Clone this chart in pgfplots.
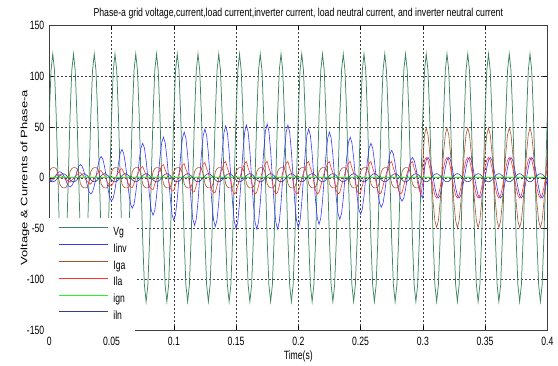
\documentclass[border=0pt]{standalone}
\usepackage{pgfplots}
\usepackage{pgfplotstable}
\usepackage{graphicx}
\usepackage{fontspec}
\pgfplotsset{compat=1.18}
\setmainfont{Liberation Sans}
\newfontfamily\nf[FakeStretch=0.72]{Liberation Sans}
\newfontfamily\tf[FakeStretch=0.76]{Liberation Sans}
\definecolor{cvg}{rgb}{0.25,0.52,0.39}
\definecolor{cinv}{rgb}{0.22,0.22,1}
\definecolor{cga}{rgb}{0.65,0.33,0.18}
\definecolor{cla}{rgb}{1,0.2,0.2}
\definecolor{cgn}{rgb}{0.15,0.95,0.15}
\definecolor{cln}{rgb}{0.2,0.25,0.55}
% x is the sample index: t = x/720 s
\pgfplotstableread{
x Vg Iinv Iga Ila iln
0 61 -4 6 -2.7 -2
1 105.7 -3.5 9 -1.5 -3.5
2 122 -2 10 -0.3 -4
3 105.7 0 10 0.9 -3.5
4 61 3 9 1.8 -2
5 0 5.2 4 2.7 0
6 -61 6 -6 3 2
7 -105.7 5.2 -9 1.8 3.5
8 -122 3 -10 0.9 4
9 -105.7 0 -10 -0.9 3.5
10 -61 -4.5 -9 -2.4 2
11 0 -7.8 -4 -3 0
12 61 -9 6 -4.5 -2
13 105.7 -7.8 9 -2.5 -3.5
14 122 -4.5 10 -0.5 -4
15 105.7 0 10 1.5 -3.5
16 61 6.5 9 3 -2
17 0 11.3 4 4.5 0
18 -61 13 -6 5 2
19 -105.7 11.3 -9 3 3.5
20 -122 6.5 -10 1.5 4
21 -105.7 0 -10 -1.5 3.5
22 -61 -8 -9 -4 2
23 0 -13.9 -4 -5 0
24 61 -16 6 -6.3 -2
25 105.7 -13.9 9 -3.5 -3.5
26 122 -8 10 -0.7 -4
27 105.7 0 10 2.1 -3.5
28 61 10.5 9 4.2 -2
29 0 18.2 4 6.3 0
30 -61 21 -6 7 2
31 -105.7 18.2 -9 4.2 3.5
32 -122 10.5 -10 2.1 4
33 -105.7 0 -10 -2.1 3.5
34 -61 -11.5 -9 -5.6 2
35 0 -19.9 -4 -7 0
36 61 -23 6 -8.1 -2
37 105.7 -19.9 9 -4.5 -3.5
38 122 -11.5 10 -0.9 -4
39 105.7 0 10 2.7 -3.5
40 61 14 9 5.4 -2
41 0 24.2 4 8.1 0
42 -61 28 -6 9 2
43 -105.7 24.2 -9 5.4 3.5
44 -122 14 -10 2.7 4
45 -105.7 0 -10 -2.7 3.5
46 -61 -15 -9 -7.2 2
47 0 -26 -4 -9 0
48 61 -30 6 -9.9 -2
49 105.7 -26 9 -5.5 -3.5
50 122 -15 10 -1.1 -4
51 105.7 0 10 3.3 -3.5
52 61 17 9 6.6 -2
53 0 29.4 4 9.9 0
54 -61 34 -6 11 2
55 -105.7 29.4 -9 6.6 3.5
56 -122 17 -10 3.3 4
57 -105.7 0 -10 -3.3 3.5
58 -61 -18.5 -9 -8.8 2
59 0 -32 -4 -11 0
60 61 -37 6 -11.7 -2
61 105.7 -32 9 -6.5 -3.5
62 122 -18.5 10 -1.3 -4
63 105.7 0 10 3.9 -3.5
64 61 20 9 7.8 -2
65 0 34.6 4 11.7 0
66 -61 40 -6 13 2
67 -105.7 34.6 -9 7.8 3.5
68 -122 20 -10 3.9 4
69 -105.7 0 -10 -3.9 3.5
70 -61 -21 -9 -10.4 2
71 0 -36.4 -4 -13 0
72 61 -42 6 -12.6 -2
73 105.7 -36.4 9 -7 -3.5
74 122 -21 10 -1.4 -4
75 105.7 0 10 4.2 -3.5
76 61 22.5 9 8.4 -2
77 0 39 4 12.6 0
78 -61 45 -6 14 2
79 -105.7 39 -9 8.4 3.5
80 -122 22.5 -10 4.2 4
81 -105.7 0 -10 -4.2 3.5
82 -61 -23.5 -9 -11.2 2
83 0 -40.7 -4 -14 0
84 61 -47 6 -13.5 -2
85 105.7 -40.7 9 -7.5 -3.5
86 122 -23.5 10 -1.5 -4
87 105.7 0 10 4.5 -3.5
88 61 24 9 9 -2
89 0 41.6 4 13.5 0
90 -61 48 -6 15 2
91 -105.7 41.6 -9 9 3.5
92 -122 24 -10 4.5 4
93 -105.7 0 -10 -4.5 3.5
94 -61 -24 -9 -12 2
95 0 -41.6 -4 -15 0
96 61 -48 6 -14.4 -2
97 105.7 -41.6 9 -8 -3.5
98 122 -24 10 -1.6 -4
99 105.7 0 10 4.8 -3.5
100 61 25.5 9 9.6 -2
101 0 44.2 4 14.4 0
102 -61 51 -6 16 2
103 -105.7 44.2 -9 9.6 3.5
104 -122 25.5 -10 4.8 4
105 -105.7 0 -10 -4.8 3.5
106 -61 -25 -9 -12.8 2
107 0 -43.3 -4 -16 0
108 61 -50 6 -14.4 -2
109 105.7 -43.3 9 -8 -3.5
110 122 -25 10 -1.6 -4
111 105.7 0 10 4.8 -3.5
112 61 26 9 9.6 -2
113 0 45 4 14.4 0
114 -61 52 -6 16 2
115 -105.7 45 -9 9.6 3.5
116 -122 26 -10 4.8 4
117 -105.7 0 -10 -4.8 3.5
118 -61 -25.3 -9 -12.8 2
119 0 -43.7 -4 -16 0
120 61 -50.5 6 -14.4 -2
121 105.7 -43.7 9 -8 -3.5
122 122 -25.3 10 -1.6 -4
123 105.7 0 10 4.8 -3.5
124 61 26.5 9 9.6 -2
125 0 45.9 4 14.4 0
126 -61 53 -6 16 2
127 -105.7 45.9 -9 9.6 3.5
128 -122 26.5 -10 4.8 4
129 -105.7 0 -10 -4.8 3.5
130 -61 -25.3 -9 -12.8 2
131 0 -43.7 -4 -16 0
132 61 -50.5 6 -14.4 -2
133 105.7 -43.7 9 -8 -3.5
134 122 -25.3 10 -1.6 -4
135 105.7 0 10 4.8 -3.5
136 61 26 9 9.6 -2
137 0 45 4 14.4 0
138 -61 52 -6 16 2
139 -105.7 45 -9 9.6 3.5
140 -122 26 -10 4.8 4
141 -105.7 0 -10 -4.8 3.5
142 -61 -24.5 -9 -12.8 2
143 0 -42.4 -4 -16 0
144 61 -49 6 -14.4 -2
145 105.7 -42.4 9 -8 -3.5
146 122 -24.5 10 -1.6 -4
147 105.7 0 10 4.8 -3.5
148 61 24 9 9.6 -2
149 0 41.6 4 14.4 0
150 -61 48 -6 16 2
151 -105.7 41.6 -9 9.6 3.5
152 -122 24 -10 4.8 4
153 -105.7 0 -10 -4.8 3.5
154 -61 -23 -9 -12.8 2
155 0 -39.8 -4 -16 0
156 61 -46 6 -14.4 -2
157 105.7 -39.8 9 -8 -3.5
158 122 -23 10 -1.6 -4
159 105.7 0 10 4.8 -3.5
160 61 22.5 9 9.6 -2
161 0 39 4 14.4 0
162 -61 45 -6 16 2
163 -105.7 39 -9 9.6 3.5
164 -122 22.5 -10 4.8 4
165 -105.7 0 -10 -4.8 3.5
166 -61 -20.5 -9 -12.8 2
167 0 -35.5 -4 -16 0
168 61 -41 6 -14.4 -2
169 105.7 -35.5 9 -8 -3.5
170 122 -20.5 10 -1.6 -4
171 105.7 0 10 4.8 -3.5
172 61 20 9 9.6 -2
173 0 34.6 4 14.4 0
174 -61 40 -6 16 2
175 -105.7 34.6 -9 9.6 3.5
176 -122 20 -10 4.8 4
177 -105.7 0 -10 -4.8 3.5
178 -61 -18 -9 -12.8 2
179 0 -31.2 -4 -16 0
180 61 -36 6 -14.4 -2
181 105.7 -31.2 9 -8 -3.5
182 122 -18 10 -1.6 -4
183 105.7 0 10 4.8 -3.5
184 61 17 9 9.6 -2
185 0 29.4 4 14.4 0
186 -61 34 -6 16 2
187 -105.7 29.4 -9 9.6 3.5
188 -122 17 -10 4.8 4
189 -105.7 0 -10 -4.8 3.5
190 -61 -14.5 -9 -12.8 2
191 0 -25.1 -4 -16 0
192 61 -29 6 -14.4 -2
193 105.7 -25.1 9 -8 -3.5
194 122 -14.5 10 -1.6 -4
195 105.7 0 10 4.8 -3.5
196 61 13.5 9 9.6 -2
197 0 23.4 4 14.4 0
198 -61 27 -6 16 2
199 -105.7 23.4 -9 9.6 3.5
200 -122 13.5 -10 4.8 4
201 -105.7 0 -10 -4.8 3.5
202 -61 -11.5 -9 -12.8 2
203 0 -19.9 -4 -16 0
204 61 -23 6 -14.4 -2
205 105.7 -19.9 9 -8 -3.5
206 122 -11.5 10 -1.6 -4
207 105.7 0 10 4.8 -3.5
208 61 10 9 9.6 -2
209 0 17.3 4 14.4 0
210 -61 20 -6 16 2
211 -105.7 17.3 -9 9.6 3.5
212 -122 10 -10 4.8 4
213 -105.7 0 -10 -4.8 3.5
214 -61 -10 -9 -12.8 2
215 0 -17.3 -4 -16 0
216 61 -20 15 -5 -2
217 105.7 10 42.4 17.3 -3.5
218 122 17.3 49 20 -4
219 105.7 20 42.4 17.3 -3.5
220 61 17.3 24.5 10 -2
221 0 10 0 0 0
222 -61 0 -24.5 -10 2
223 -105.7 -10 -42.4 -17.3 3.5
224 -122 -17.3 -49 -20 4
225 -105.7 -20 -42.4 -17.3 3.5
226 -61 -17.3 -24.5 -10 2
227 0 -10 0 0 0
228 61 0 24.5 10 -2
229 105.7 10 42.4 17.3 -3.5
230 122 17.3 49 20 -4
231 105.7 20 42.4 17.3 -3.5
232 61 17.3 24.5 10 -2
233 0 10 0 0 0
234 -61 0 -24.5 -10 2
235 -105.7 -10 -42.4 -17.3 3.5
236 -122 -17.3 -49 -20 4
237 -105.7 -20 -42.4 -17.3 3.5
238 -61 -17.3 -24.5 -10 2
239 0 -10 0 0 0
240 61 0 24.5 10 -2
241 105.7 10 42.4 17.3 -3.5
242 122 17.3 49 20 -4
243 105.7 20 42.4 17.3 -3.5
244 61 17.3 24.5 10 -2
245 0 10 0 0 0
246 -61 0 -24.5 -10 2
247 -105.7 -10 -42.4 -17.3 3.5
248 -122 -17.3 -49 -20 4
249 -105.7 -20 -42.4 -17.3 3.5
250 -61 -17.3 -24.5 -10 2
251 0 -10 0 0 0
252 61 0 24.5 10 -2
253 105.7 10 42.4 17.3 -3.5
254 122 17.3 49 20 -4
255 105.7 20 42.4 17.3 -3.5
256 61 17.3 24.5 10 -2
257 0 10 0 0 0
258 -61 0 -24.5 -10 2
259 -105.7 -10 -42.4 -17.3 3.5
260 -122 -17.3 -49 -20 4
261 -105.7 -20 -42.4 -17.3 3.5
262 -61 -17.3 -24.5 -10 2
263 0 -10 0 0 0
264 61 0 24.5 10 -2
265 105.7 10 42.4 17.3 -3.5
266 122 17.3 49 20 -4
267 105.7 20 42.4 17.3 -3.5
268 61 17.3 24.5 10 -2
269 0 10 0 0 0
270 -61 0 -24.5 -10 2
271 -105.7 -10 -42.4 -17.3 3.5
272 -122 -17.3 -49 -20 4
273 -105.7 -20 -42.4 -17.3 3.5
274 -61 -17.3 -24.5 -10 2
275 0 -10 0 0 0
276 61 0 24.5 10 -2
277 105.7 10 42.4 17.3 -3.5
278 122 17.3 49 20 -4
279 105.7 20 42.4 17.3 -3.5
280 61 17.3 24.5 10 -2
281 0 10 0 0 0
282 -61 0 -24.5 -10 2
283 -105.7 -10 -42.4 -17.3 3.5
284 -122 -17.3 -49 -20 4
285 -105.7 -20 -42.4 -17.3 3.5
286 -61 -17.3 -24.5 -10 2
287 0 -10 0 0 0
288 61 0 24.5 10 -2
}\data

\begin{document}
\begin{tikzpicture}
\useasboundingbox (-49.3pt,-35pt) rectangle (508.7pt,330pt);
\begin{axis}[
  scale only axis, width=498pt, height=304.5pt,
  xmin=0, xmax=288, ymin=-150, ymax=150,
  xtick={0,36,72,108,144,180,216,252,288},
  xticklabels={0,0.05,0.1,0.15,0.2,0.25,0.3,0.35,0.4},
  ytick={-150,-100,-50,0,50,100,150},
  tick align=inside, major tick length=4pt,
  tick style={black, line width=0.5pt},
  axis line style={black!75, line width=0.7pt},
  grid=major,
  grid style={black!75, line width=0.5pt, dash pattern=on 2pt off 2pt},
  /pgf/number format/assume math mode=true,
  ticklabel style={font=\nf\fontsize{12}{12}\selectfont},
  xticklabel style={yshift=-3.7pt},
  yticklabel style={xshift=-1.5pt},
  title={Phase-a grid voltage,current,load current,inverter current, load neutral current, and inverter neutral current},
  title style={font=\tf\fontsize{11.5}{12}\selectfont, at={(axis description cs:0.5,1)}, anchor=center, yshift=5.5pt},
  xlabel={Time(s)},
  xlabel style={font=\nf\fontsize{12}{12}\selectfont, at={(axis description cs:0.5,-0.0877)}, anchor=center},
  ylabel={\scalebox{1}[0.72]{Voltage \& Currents of Phase-a}},
  ylabel style={font=\fontsize{13}{13}\selectfont, at={(axis description cs:-0.049,0.5)}, anchor=center},
  legend style={at={(0,0.3685)}, anchor=north west, draw=none, fill=white,
    inner xsep=8.7pt, inner ysep=8.5pt, font=\nf\fontsize{12}{12}\selectfont,
    row sep=4.8pt, nodes={inner sep=0pt, text height=9pt, text depth=3pt}},
  legend cell align=left,
  legend image code/.code={\draw[#1, line width=1pt] (0pt,4.5pt) -- (49pt,4.5pt); \path (54pt,0pt);},
]
\addplot[cvg, line width=0.75pt] table[x=x,y=Vg]{\data};
\addlegendentry{Vg}
\addplot[cinv, line width=0.6pt] table[x=x,y=Iinv]{\data};
\addlegendentry{Iinv}
\addplot[cga, line width=0.6pt] table[x=x,y=Iga]{\data};
\addlegendentry{Iga}
\addplot[cla, line width=0.6pt] table[x=x,y=Ila]{\data};
\addlegendentry{Ila}
\addplot[cgn, line width=1.3pt] coordinates {(0,0) (288,0)};
\addlegendentry{ign}
\addplot[cln, line width=0.6pt] table[x=x,y=iln]{\data};
\addlegendentry{iln}
\end{axis}
\end{tikzpicture}
\end{document}
